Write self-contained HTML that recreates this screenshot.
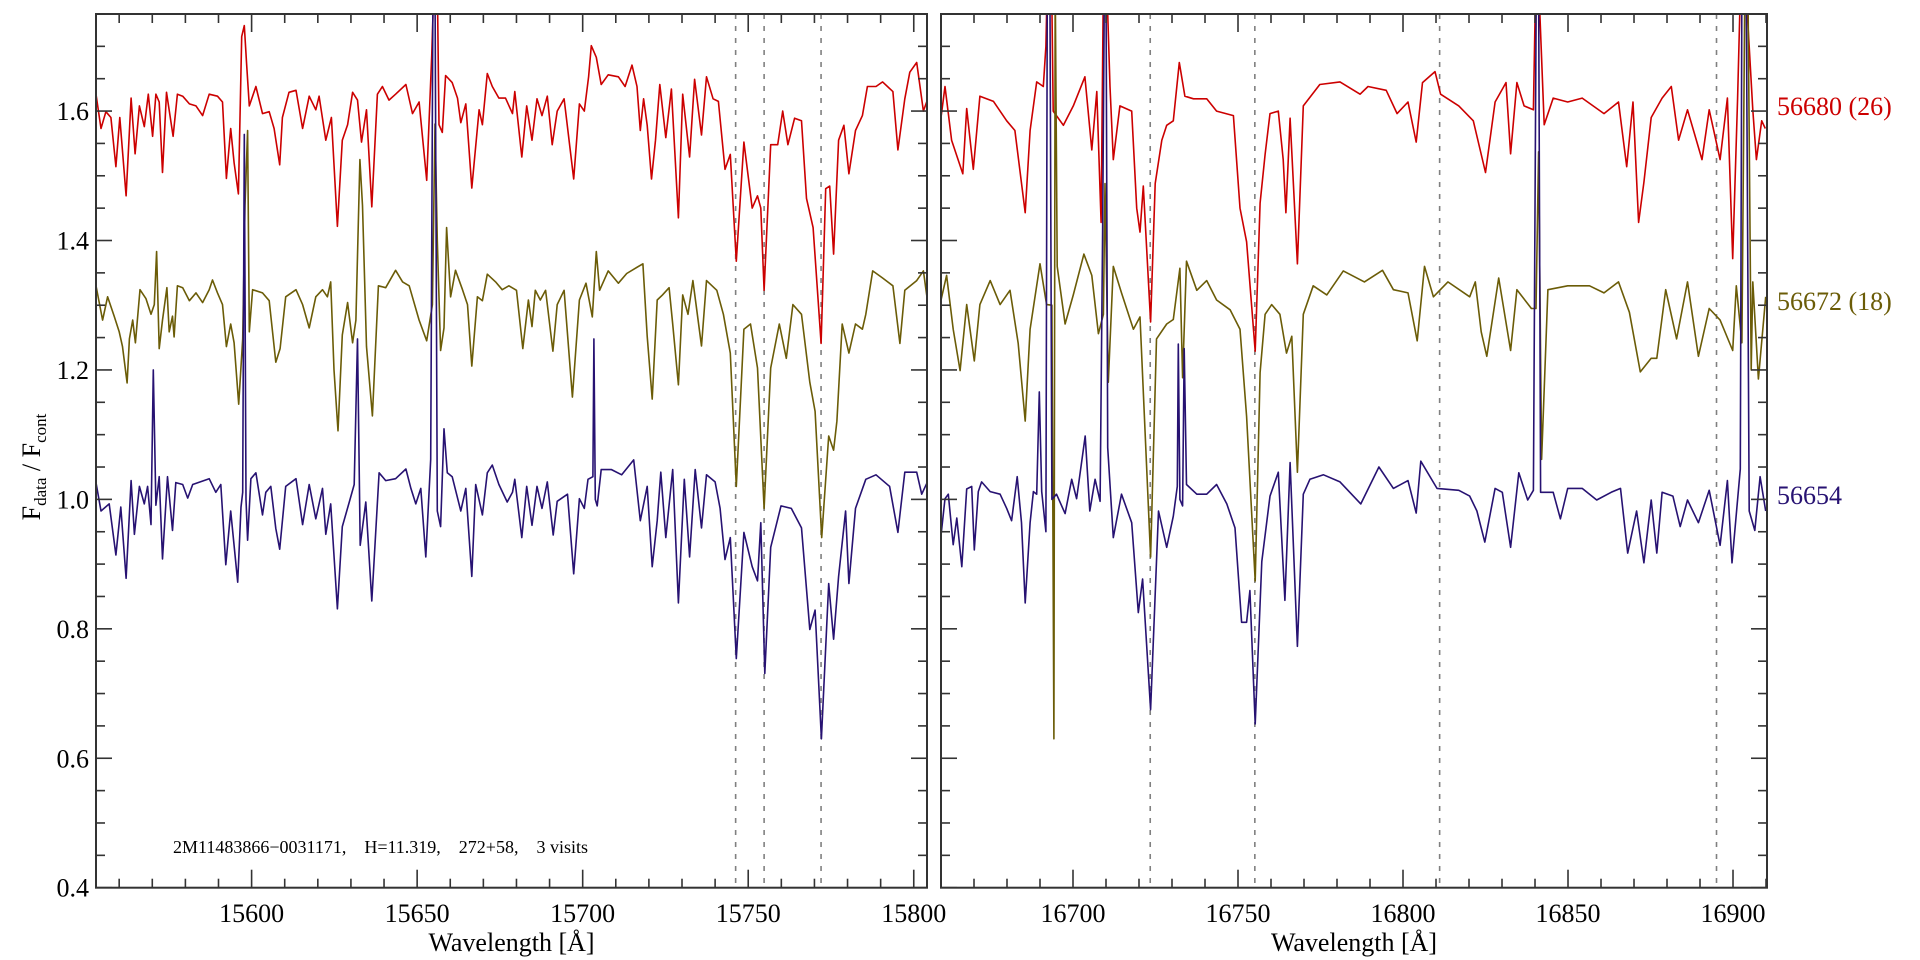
<!DOCTYPE html>
<html><head><meta charset="utf-8"><style>
html,body{margin:0;padding:0;background:#fff;}
svg{display:block;font-family:"Liberation Serif",serif;}
</style></head><body>
<svg id="chart" width="1920" height="960" viewBox="0 0 1920 960" xmlns="http://www.w3.org/2000/svg">
<defs>
<clipPath id="clipL"><rect x="96" y="14" width="831" height="874"/></clipPath>
<clipPath id="clipR"><rect x="941" y="14" width="826" height="874"/></clipPath>
</defs>
<g id="layer"></g>
</svg>
<script>
// ---------- data ----------
const yTicks = [0.4,0.6,0.8,1.0,1.2,1.4,1.6];
const yTickLabels = ["0.4","0.6","0.8","1.0","1.2","1.4","1.6"];
const leftXTicks = [15600,15650,15700,15750,15800];
const rightXTicks = [16700,16750,16800,16850,16900];
const leftDashed = [15746.2,15754.8,15772.0];
const rightDashed = [16723.4,16755.1,16811.1,16895.0];
const seriesLabels = ["56680 (26)","56672 (18)","56654"];

const lBlueW = [15553.0,15554.5,15557.0,15559.0,15560.5,15562.1,15563.6,15564.6,15566.1,15567.6,15568.6,15569.6,15570.3,15571.1,15572.1,15573.1,15574.6,15576.1,15577.1,15579.2,15580.7,15582.2,15587.2,15589.2,15590.7,15592.2,15593.7,15595.8,15596.8,15597.3,15597.8,15598.3,15598.8,15599.8,15601.3,15603.3,15604.3,15605.8,15607.3,15608.5,15610.3,15613.4,15615.4,15617.4,15619.4,15621.4,15622.4,15623.9,15625.9,15627.4,15629.5,15631.0,15632.0,15632.8,15634.5,15636.3,15638.5,15640.5,15643.5,15646.6,15648.1,15649.6,15651.1,15652.6,15654.1,15654.8,15655.4,15656.1,15657.1,15658.1,15659.1,15660.6,15663.2,15664.7,15666.5,15667.7,15669.7,15671.2,15672.7,15674.7,15677.2,15678.8,15679.5,15681.6,15683.1,15684.7,15686.2,15687.7,15689.3,15691.1,15692.3,15695.4,15697.3,15699.0,15700.5,15701.6,15703.1,15703.4,15703.8,15704.4,15705.6,15708.7,15711.8,15715.4,15717.4,15719.5,15721.0,15722.5,15723.6,15725.1,15727.2,15728.9,15730.7,15732.3,15734.0,15735.9,15737.4,15740.0,15741.5,15743.0,15744.6,15746.4,15748.7,15751.2,15752.8,15753.8,15755.0,15756.8,15759.9,15763.0,15766.1,15768.6,15770.2,15772.1,15774.3,15775.8,15777.3,15779.4,15780.4,15782.4,15785.5,15788.6,15792.7,15795.2,15797.3,15800.9,15802.4,15804.5];
const lBlueF = [1.026,0.982,0.993,0.914,0.988,0.878,1.029,0.946,1.020,0.993,1.020,0.961,1.20,0.991,1.035,0.908,1.035,0.952,1.026,1.023,1.002,1.023,1.032,1.011,1.023,0.899,0.982,0.872,0.988,1.011,1.564,1.0,0.937,1.032,1.041,0.976,1.011,1.020,0.955,0.923,1.020,1.032,0.961,1.023,0.970,1.017,0.946,0.993,0.831,0.958,0.996,1.023,1.248,0.929,0.996,0.843,1.041,1.029,1.032,1.047,1.017,0.993,1.017,0.911,1.062,1.80,1.80,0.982,0.958,1.109,1.041,1.035,0.982,1.017,0.881,1.023,0.976,1.041,1.053,1.023,0.996,1.011,1.031,0.941,1.020,0.960,1.020,0.986,1.027,0.945,0.997,1.008,0.885,1.001,0.986,1.031,1.035,1.248,1.0,0.99,1.046,1.046,1.038,1.061,0.967,1.020,0.896,0.967,1.042,0.941,1.046,0.840,1.031,0.911,1.046,0.956,1.038,1.027,0.986,0.907,0.941,0.754,0.949,0.896,0.874,0.964,0.731,0.926,0.990,0.986,0.956,0.799,0.829,0.630,0.870,0.784,0.881,0.982,0.870,0.986,1.031,1.038,1.020,0.949,1.042,1.042,1.008,1.031];

const lRedW = [15553.0,15554.5,15556.0,15557.5,15559.0,15560.2,15562.1,15563.6,15564.8,15566.1,15567.6,15568.8,15570.1,15571.1,15572.1,15573.1,15574.3,15576.3,15577.6,15579.2,15581.2,15583.2,15585.2,15587.2,15589.7,15591.2,15592.4,15593.7,15594.7,15596.0,15597.0,15597.8,15598.5,15599.3,15601.3,15603.3,15605.3,15606.8,15608.5,15609.3,15611.3,15613.4,15615.4,15617.4,15619.4,15620.4,15622.4,15624.1,15625.9,15627.4,15629.0,15630.5,15632.0,15633.2,15634.7,15636.3,15638.0,15639.5,15641.5,15643.5,15646.6,15648.6,15650.6,15652.9,15654.4,15655.1,15656.1,15656.6,15657.6,15658.6,15660.6,15662.2,15663.2,15664.7,15666.5,15668.7,15669.7,15671.2,15672.7,15674.7,15676.7,15678.8,15679.5,15681.6,15683.1,15684.7,15686.2,15687.7,15689.3,15690.8,15692.3,15694.4,15697.3,15699.0,15700.5,15701.8,15702.6,15704.1,15705.6,15707.7,15710.8,15712.8,15714.9,15716.4,15717.4,15718.4,15719.5,15720.8,15722.0,15723.3,15725.1,15726.8,15728.9,15730.2,15732.3,15733.8,15735.9,15737.4,15739.4,15741.0,15743.0,15744.6,15746.4,15748.7,15751.2,15752.8,15753.8,15754.8,15756.8,15758.9,15760.4,15762.0,15764.0,15766.1,15767.6,15769.6,15772.0,15773.4,15774.6,15775.8,15777.3,15778.9,15780.4,15782.4,15784.5,15786.0,15788.6,15790.6,15793.7,15795.2,15797.3,15798.8,15800.9,15802.9,15804.5];
const lRedF = [1.626,1.573,1.599,1.590,1.514,1.590,1.469,1.620,1.534,1.608,1.576,1.626,1.561,1.626,1.614,1.505,1.629,1.561,1.626,1.623,1.611,1.608,1.593,1.626,1.623,1.614,1.496,1.573,1.520,1.472,1.715,1.732,1.673,1.608,1.638,1.596,1.599,1.573,1.517,1.590,1.629,1.632,1.573,1.623,1.602,1.623,1.555,1.590,1.422,1.555,1.579,1.629,1.617,1.552,1.602,1.452,1.626,1.638,1.617,1.626,1.641,1.596,1.614,1.493,1.685,1.80,1.80,1.579,1.567,1.655,1.644,1.620,1.582,1.611,1.481,1.602,1.579,1.658,1.638,1.620,1.620,1.596,1.630,1.529,1.608,1.555,1.619,1.593,1.623,1.548,1.600,1.619,1.495,1.611,1.600,1.653,1.701,1.683,1.641,1.656,1.653,1.638,1.671,1.638,1.570,1.619,1.578,1.495,1.555,1.641,1.559,1.634,1.435,1.626,1.529,1.649,1.563,1.653,1.619,1.615,1.510,1.533,1.368,1.552,1.450,1.469,1.450,1.323,1.548,1.548,1.600,1.548,1.589,1.585,1.465,1.420,1.241,1.480,1.484,1.379,1.555,1.578,1.503,1.570,1.593,1.638,1.638,1.645,1.630,1.540,1.619,1.660,1.675,1.600,1.623];

const lOliveW = [15553.0,15555.0,15556.5,15558.5,15560.0,15561.0,15562.4,15563.1,15564.1,15564.9,15566.3,15568.1,15569.6,15570.6,15571.3,15572.1,15573.1,15574.4,15575.1,15576.1,15576.6,15577.6,15579.2,15581.2,15583.2,15585.2,15587.2,15588.2,15589.7,15591.2,15592.4,15593.7,15594.7,15596.1,15597.3,15598.0,15598.8,15599.3,15600.3,15603.3,15605.3,15607.3,15608.6,15610.3,15613.4,15615.4,15617.4,15619.4,15621.4,15622.9,15623.9,15624.9,15626.1,15627.4,15629.0,15630.5,15631.5,15632.7,15633.5,15634.7,15636.5,15638.3,15640.5,15643.5,15645.6,15647.6,15650.6,15652.9,15654.6,15655.4,15656.1,15657.1,15658.1,15658.9,15660.1,15661.6,15663.7,15665.2,15666.5,15668.2,15669.7,15671.2,15673.7,15675.7,15677.7,15680.0,15681.9,15683.6,15684.7,15685.7,15687.2,15688.8,15691.0,15692.3,15694.4,15696.9,15699.0,15701.0,15702.9,15704.1,15705.1,15707.7,15710.8,15713.3,15715.9,15718.2,15719.5,15721.0,15722.5,15724.1,15726.1,15727.2,15728.9,15730.2,15731.8,15733.3,15735.9,15737.4,15740.5,15742.5,15744.6,15746.4,15748.7,15750.7,15752.8,15754.8,15756.8,15759.4,15761.5,15763.5,15766.1,15768.6,15770.2,15772.2,15774.3,15775.8,15776.8,15778.4,15780.4,15782.4,15784.5,15785.5,15787.6,15790.6,15793.7,15795.8,15797.3,15800.9,15802.9,15804.5];
const lOliveF = [1.330,1.277,1.313,1.283,1.259,1.236,1.180,1.248,1.277,1.242,1.324,1.310,1.286,1.301,1.383,1.233,1.277,1.327,1.259,1.283,1.251,1.330,1.327,1.307,1.319,1.304,1.324,1.339,1.319,1.301,1.236,1.271,1.242,1.147,1.248,1.454,1.570,1.259,1.324,1.319,1.307,1.212,1.233,1.313,1.324,1.301,1.265,1.313,1.324,1.313,1.336,1.200,1.106,1.254,1.304,1.242,1.277,1.525,1.454,1.236,1.129,1.330,1.327,1.354,1.336,1.330,1.277,1.245,1.301,1.58,1.40,1.230,1.265,1.42,1.313,1.354,1.324,1.301,1.206,1.313,1.307,1.348,1.336,1.324,1.330,1.323,1.233,1.308,1.267,1.323,1.308,1.323,1.229,1.301,1.323,1.158,1.308,1.334,1.282,1.383,1.323,1.353,1.334,1.349,1.357,1.364,1.252,1.155,1.308,1.316,1.327,1.271,1.177,1.316,1.286,1.338,1.237,1.338,1.323,1.286,1.226,1.020,1.263,1.271,1.203,0.986,1.203,1.271,1.218,1.301,1.286,1.181,1.136,0.941,1.098,1.076,1.121,1.271,1.226,1.271,1.263,1.286,1.353,1.342,1.330,1.241,1.323,1.338,1.353,1.293];

const rBlueW = [16659.7,16661.2,16662.2,16663.7,16664.8,16666.3,16667.8,16669.3,16670.1,16671.3,16672.3,16674.9,16677.9,16679.9,16681.4,16683.1,16684.4,16685.5,16687.0,16688.0,16689.0,16689.8,16690.5,16691.8,16692.2,16693.0,16693.6,16695.0,16697.6,16699.6,16701.1,16703.7,16705.1,16706.7,16708.2,16709.0,16709.5,16710.0,16710.5,16712.2,16714.7,16717.8,16719.8,16721.1,16723.5,16725.9,16728.4,16730.4,16731.6,16731.9,16732.4,16733.2,16733.7,16734.4,16737.5,16740.5,16743.5,16746.6,16749.1,16751.1,16752.6,16753.6,16755.2,16757.2,16759.7,16762.2,16764.2,16765.8,16768.0,16769.8,16771.8,16775.9,16780.9,16787.2,16792.7,16797.1,16801.5,16804.0,16805.4,16810.3,16816.9,16820.2,16822.4,16824.8,16827.9,16830.1,16832.6,16835.1,16837.8,16839.5,16840.4,16841.1,16841.7,16845.5,16847.7,16849.9,16854.3,16858.7,16863.1,16865.9,16868.1,16870.8,16873.0,16875.2,16876.9,16878.5,16881.8,16884.0,16886.2,16889.5,16892.8,16896.1,16898.3,16899.7,16902.2,16902.7,16904.0,16904.9,16906.6,16908.2,16909.9];
const rBlueF = [0.930,1.001,1.008,0.930,0.971,0.896,1.016,1.020,0.922,1.012,1.027,1.012,1.008,0.986,0.967,1.035,0.964,0.840,0.964,1.012,1.008,1.166,1.012,0.95,1.80,1.80,1.0,1.008,0.978,1.031,1.001,1.098,0.982,1.031,0.997,1.428,1.80,1.80,1.08,0.941,1.008,0.964,0.825,0.877,0.675,0.982,0.926,0.974,1.02,1.240,1.0,0.99,1.233,1.023,1.008,1.008,1.023,0.993,0.956,0.810,0.810,0.859,0.653,0.904,1.005,1.042,0.844,1.057,0.773,1.008,1.031,1.038,1.027,0.993,1.050,1.017,1.029,0.979,1.059,1.017,1.014,1.005,0.982,0.934,1.017,1.011,0.926,1.041,0.999,1.014,1.80,1.80,1.011,1.011,0.970,1.017,1.017,0.999,1.011,1.017,0.917,0.982,0.902,0.999,0.917,1.011,1.005,0.958,0.999,0.964,1.014,0.929,1.029,0.902,1.047,1.80,1.80,0.982,0.952,1.035,0.982];

const rRedW = [16659.7,16661.2,16663.2,16666.6,16667.8,16669.8,16671.8,16675.9,16679.9,16682.4,16685.5,16687.0,16689.0,16691.0,16691.8,16692.2,16693.5,16694.0,16697.1,16700.1,16703.6,16705.7,16707.2,16708.5,16709.2,16710.2,16711.2,16712.2,16714.2,16717.8,16719.3,16720.3,16721.3,16723.5,16724.9,16726.9,16728.4,16730.4,16732.2,16733.9,16736.5,16740.5,16743.5,16748.6,16750.6,16752.6,16755.2,16756.7,16758.2,16759.7,16762.2,16763.7,16764.5,16765.8,16768.0,16769.8,16774.8,16780.9,16787.0,16789.4,16794.9,16798.2,16801.5,16804.0,16805.9,16809.7,16811.4,16816.9,16821.3,16825.0,16827.9,16831.2,16832.6,16834.5,16836.7,16839.5,16840.2,16841.1,16842.8,16845.5,16849.9,16854.3,16860.9,16865.3,16867.8,16869.7,16871.4,16873.0,16875.2,16878.5,16881.3,16883.5,16886.2,16890.6,16892.8,16896.1,16898.3,16899.9,16901.4,16902.3,16903.8,16906.0,16907.1,16908.7,16909.8];
const rRedF = [1.578,1.638,1.555,1.503,1.604,1.510,1.623,1.615,1.585,1.570,1.443,1.570,1.645,1.638,1.70,1.80,1.80,1.600,1.578,1.608,1.653,1.540,1.630,1.428,1.80,1.80,1.638,1.525,1.608,1.600,1.450,1.413,1.484,1.274,1.488,1.555,1.578,1.585,1.675,1.623,1.619,1.619,1.600,1.593,1.450,1.398,1.229,1.458,1.533,1.596,1.600,1.525,1.443,1.589,1.364,1.608,1.641,1.645,1.626,1.638,1.632,1.596,1.614,1.552,1.644,1.661,1.626,1.608,1.585,1.505,1.614,1.644,1.534,1.644,1.608,1.602,1.80,1.80,1.579,1.620,1.614,1.620,1.596,1.614,1.514,1.614,1.428,1.490,1.590,1.620,1.638,1.555,1.602,1.525,1.602,1.525,1.620,1.372,1.62,1.80,1.80,1.602,1.525,1.585,1.573];

const rOliveW = [16659.7,16661.7,16663.7,16665.8,16667.8,16670.1,16671.8,16674.9,16677.9,16680.9,16683.4,16685.5,16687.0,16690.0,16692.0,16693.6,16694.2,16694.6,16695.2,16697.6,16700.1,16703.3,16705.7,16707.7,16709.2,16709.7,16710.7,16712.2,16714.7,16718.3,16720.3,16723.5,16725.3,16728.4,16730.4,16732.4,16733.2,16734.4,16737.5,16740.5,16743.5,16747.6,16750.6,16752.6,16755.2,16756.7,16758.2,16760.2,16762.7,16764.7,16766.3,16768.0,16769.8,16772.8,16776.9,16781.9,16788.3,16793.8,16797.1,16801.5,16804.3,16806.5,16809.2,16813.6,16820.2,16821.9,16823.7,16825.4,16829.0,16832.6,16834.5,16838.9,16840.3,16841.1,16842.0,16843.9,16849.9,16856.5,16860.9,16865.3,16868.6,16871.9,16875.2,16876.9,16879.6,16882.9,16886.2,16889.5,16892.8,16896.1,16899.9,16901.0,16902.7,16903.6,16904.5,16905.5,16906.0,16907.7,16909.9];
const rOliveF = [1.301,1.346,1.263,1.199,1.301,1.214,1.301,1.338,1.301,1.323,1.241,1.121,1.263,1.364,1.301,1.30,0.630,1.80,1.36,1.271,1.316,1.379,1.346,1.256,1.286,1.488,1.181,1.360,1.319,1.263,1.282,0.911,1.248,1.271,1.278,1.357,1.188,1.368,1.323,1.338,1.308,1.293,1.263,1.128,0.874,1.196,1.286,1.301,1.286,1.226,1.252,1.042,1.286,1.330,1.316,1.353,1.336,1.354,1.324,1.319,1.245,1.360,1.313,1.336,1.313,1.336,1.259,1.221,1.342,1.230,1.324,1.295,1.295,1.537,1.062,1.324,1.330,1.330,1.319,1.336,1.289,1.197,1.218,1.218,1.324,1.248,1.336,1.221,1.295,1.277,1.230,1.330,1.242,1.80,1.80,1.2,1.336,1.186,1.313];

// ---------- layout ----------
const NS = "http://www.w3.org/2000/svg";
const layer = document.getElementById('layer');
const Y0 = 887.7, PXU = 647.2, YTOP = 14;
const yScale = v => Y0 - (v - 0.4) * PXU;
const panels = [
  {id:'left', x0:96, x1:927, w0:15553.0, w1:15804.0, ticks:leftXTicks, dashed:leftDashed, clip:'clipL'},
  {id:'right', x0:941, x1:1767, w0:16660.0, w1:16910.3, ticks:rightXTicks, dashed:rightDashed, clip:'clipR'}
];
const COL = {red:'#cc0000', olive:'#6b5c07', blue:'#271272'};

function el(tag, attrs, parent){
  const e = document.createElementNS(NS, tag);
  for (const k in attrs) e.setAttribute(k, attrs[k]);
  (parent || layer).appendChild(e);
  return e;
}
function xScaleFor(p){ return w => p.x0 + (w - p.w0) * (p.x1 - p.x0) / (p.w1 - p.w0); }

const seriesByPanel = {
  left: [[lRedW,lRedF,'red','spectrum-56680'],[lOliveW,lOliveF,'olive','spectrum-56672'],[lBlueW,lBlueF,'blue','spectrum-56654']],
  right: [[rRedW,rRedF,'red','spectrum-56680'],[rOliveW,rOliveF,'olive','spectrum-56672'],[rBlueW,rBlueF,'blue','spectrum-56654']]
};

panels.forEach((p, pi) => {
  const xs = xScaleFor(p);
  const g = el('g', {});
  
  
  // dashed lines
  p.dashed.forEach(w => {
    const l = el('line', {x1:xs(w), x2:xs(w), y1:YTOP, y2:Y0, stroke:'#808080', 'stroke-width':1.6, 'stroke-dasharray':'5,7'}, g);
    
    
  });
  // spectra
  const sg = el('g', {'clip-path':'url(#' + p.clip + ')'}, g);
  seriesByPanel[p.id].forEach(s => {
    const [W, F, c, name] = s;
    let d = '';
    for (let i = 0; i < W.length; i++) d += (i ? 'L' : 'M') + xs(W[i]).toFixed(1) + ',' + yScale(F[i]).toFixed(1);
    const path = el('path', {d:d, fill:'none', stroke:COL[c], 'stroke-width':1.6, 'stroke-linejoin':'round'}, sg);
    
    
  });
  // frame
  const fr = el('rect', {x:p.x0, y:YTOP, width:p.x1 - p.x0, height:Y0 - YTOP, fill:'none', stroke:'#333', 'stroke-width':2}, g);
  
  
  // x ticks
  for (let w = Math.ceil(p.w0 / 10) * 10; w <= p.w1; w += 10) {
    const major = (w % 50 === 0);
    const L = major ? 18 : 9;
    const x = xs(w);
    el('line', {x1:x, x2:x, y1:Y0, y2:Y0 - L, stroke:'#333', 'stroke-width':1.6}, g);
    el('line', {x1:x, x2:x, y1:YTOP, y2:YTOP + L, stroke:'#333', 'stroke-width':1.6}, g);
  }
  p.ticks.forEach(w => {
    const t = el('text', {x:xs(w), y:922, 'text-anchor':'middle', 'font-size':26, fill:'#000'}, g);
    t.textContent = String(w);
    
    
  });
  // y ticks
  for (let k = 0; k <= 27; k++) {
    const v = 0.4 + k * 0.05;
    if (v > 1.751) break;
    const major = (k % 4 === 0);
    const L = major ? 16 : 9;
    const y = yScale(v);
    el('line', {x1:p.x0, x2:p.x0 + L, y1:y, y2:y, stroke:'#333', 'stroke-width':1.6}, g);
    el('line', {x1:p.x1, x2:p.x1 - L, y1:y, y2:y, stroke:'#333', 'stroke-width':1.6}, g);
  }
  if (pi === 0) {
    yTicks.forEach((v, i) => {
      const t = el('text', {x:89, y:yScale(v) + 9, 'text-anchor':'end', 'font-size':26, fill:'#000'}, g);
      t.textContent = yTickLabels[i];
      
      
    });
  }
  const xt = el('text', {x:(p.x0 + p.x1) / 2, y:951, 'text-anchor':'middle', 'font-size':26, fill:'#000'}, g);
  xt.textContent = 'Wavelength [Å]';
  
  
});

// series labels on right
const labelY = [115, 310, 504];
const labelC = [COL.red, COL.olive, COL.blue];
seriesLabels.forEach((s, i) => {
  const t = el('text', {x:1777, y:labelY[i], 'font-size':26, fill:labelC[i]});
  t.textContent = s;
  
  
});
</script>
<svg width="0" height="0" style="position:absolute"></svg>
<script>
// static text elements
const L2 = document.getElementById('layer');
const NS2 = "http://www.w3.org/2000/svg";
const yt = document.createElementNS(NS2, 'text');
yt.setAttribute('transform', 'translate(40,467) rotate(-90)');
yt.setAttribute('text-anchor', 'middle');
yt.setAttribute('font-size', '26');
yt.innerHTML = 'F<tspan font-size="17" dy="6">data</tspan><tspan dy="-6"> / F</tspan><tspan font-size="17" dy="6">cont</tspan>';


L2.appendChild(yt);
const an = document.createElementNS(NS2, 'text');
an.setAttribute('x', '173');
an.setAttribute('y', '853');
an.setAttribute('font-size', '18');
an.setAttribute('xml:space', 'preserve');
an.style.whiteSpace = 'pre';
an.textContent = '2M11483866\u22120031171,    H=11.319,    272+58,    3 visits';


L2.appendChild(an);
</script>
</body></html>
